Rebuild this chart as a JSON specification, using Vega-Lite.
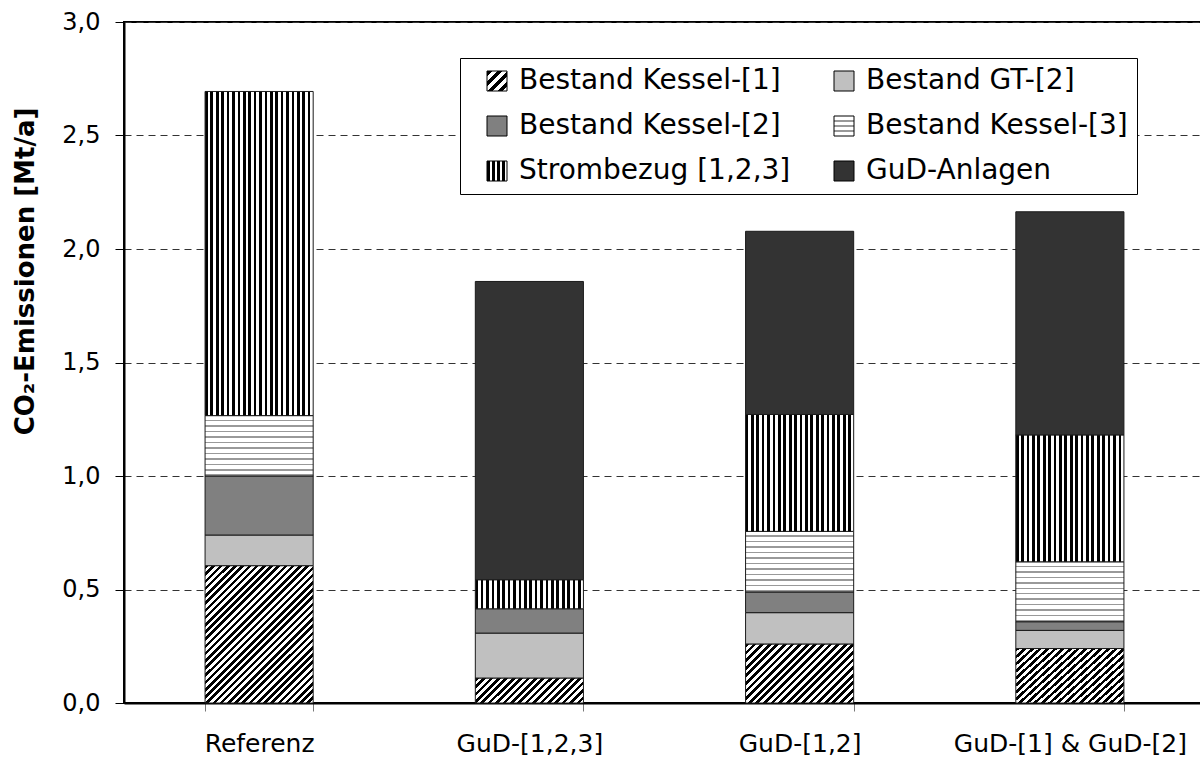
{
  "$schema": "https://vega.github.io/schema/vega-lite/v6.json",
  "width": 1081,
  "height": 681,
  "autosize": {"type": "none"},
  "padding": {"left": 124, "top": 22, "right": 0, "bottom": 55},
  "background": "white",
  "config": {
    "font": "DejaVu Sans",
    "view": {"stroke": "#000", "strokeWidth": 2}
  },
  "data": {
    "values": [
      {"scenario": "Referenz", "series": "Bestand Kessel-[1]", "value": 0.605},
      {"scenario": "Referenz", "series": "Bestand GT-[2]", "value": 0.135},
      {"scenario": "Referenz", "series": "Bestand Kessel-[2]", "value": 0.26},
      {"scenario": "Referenz", "series": "Bestand Kessel-[3]", "value": 0.266},
      {"scenario": "Referenz", "series": "Strombezug [1,2,3]", "value": 1.428},
      {"scenario": "GuD-[1,2,3]", "series": "Bestand Kessel-[1]", "value": 0.11},
      {"scenario": "GuD-[1,2,3]", "series": "Bestand GT-[2]", "value": 0.198},
      {"scenario": "GuD-[1,2,3]", "series": "Bestand Kessel-[2]", "value": 0.107},
      {"scenario": "GuD-[1,2,3]", "series": "Strombezug [1,2,3]", "value": 0.128},
      {"scenario": "GuD-[1,2,3]", "series": "GuD-Anlagen", "value": 1.314},
      {"scenario": "GuD-[1,2]", "series": "Bestand Kessel-[1]", "value": 0.26},
      {"scenario": "GuD-[1,2]", "series": "Bestand GT-[2]", "value": 0.138},
      {"scenario": "GuD-[1,2]", "series": "Bestand Kessel-[2]", "value": 0.091},
      {"scenario": "GuD-[1,2]", "series": "Bestand Kessel-[3]", "value": 0.267},
      {"scenario": "GuD-[1,2]", "series": "Strombezug [1,2,3]", "value": 0.515},
      {"scenario": "GuD-[1,2]", "series": "GuD-Anlagen", "value": 0.807},
      {"scenario": "GuD-[1] & GuD-[2]", "series": "Bestand Kessel-[1]", "value": 0.24},
      {"scenario": "GuD-[1] & GuD-[2]", "series": "Bestand GT-[2]", "value": 0.08},
      {"scenario": "GuD-[1] & GuD-[2]", "series": "Bestand Kessel-[2]", "value": 0.038},
      {"scenario": "GuD-[1] & GuD-[2]", "series": "Bestand Kessel-[3]", "value": 0.264},
      {"scenario": "GuD-[1] & GuD-[2]", "series": "Strombezug [1,2,3]", "value": 0.559},
      {"scenario": "GuD-[1] & GuD-[2]", "series": "GuD-Anlagen", "value": 0.983}
    ]
  },
  "transform": [{"window": [{"op": "row_number", "as": "stackOrder"}]}],
  "mark": {"type": "bar", "stroke": "#1a1a1a", "strokeWidth": 1},
  "encoding": {
    "x": {
      "field": "scenario",
      "type": "nominal",
      "sort": null,
      "scale": {"paddingInner": 0.6, "paddingOuter": 0.3},
      "axis": {
        "title": null,
        "labelAngle": 0,
        "labelFont": "DejaVu Sans",
        "labelFontSize": 25,
        "labelColor": "#000",
        "labelPadding": 20,
        "labelLimit": 0,
        "tickBand": "extent",
        "tickSize": 8,
        "tickColor": "#777",
        "tickWidth": 1,
        "domainColor": "#000",
        "domainWidth": 2,
        "grid": false
      }
    },
    "y": {
      "field": "value",
      "type": "quantitative",
      "stack": "zero",
      "scale": {"domain": [0, 3], "nice": false},
      "axis": {
        "values": [0, 0.5, 1, 1.5, 2, 2.5, 3],
        "labelExpr": "replace(format(datum.value, '.1f'), '.', ',')",
        "labelFont": "DejaVu Sans",
        "labelFontSize": 24,
        "labelColor": "#000",
        "labelPadding": 15,
        "tickSize": 9,
        "tickColor": "#000",
        "tickWidth": 1,
        "domainColor": "#000",
        "domainWidth": 2,
        "grid": true,
        "gridColor": "#333",
        "gridDash": [7, 5],
        "gridWidth": 1,
        "title": "CO₂-Emissionen [Mt/a]",
        "titleFont": "DejaVu Sans",
        "titleFontSize": 26,
        "titleFontWeight": "bold",
        "titleColor": "#000",
        "titleAngle": -90,
        "titleAlign": "center",
        "titleBaseline": "middle",
        "titleX": -99,
        "titleY": 249
      }
    },
    "order": {"field": "stackOrder", "type": "quantitative"},
    "fill": {
      "field": "series",
      "type": "nominal",
      "scale": {
        "domain": ["Bestand Kessel-[1]", "Bestand GT-[2]", "Bestand Kessel-[2]", "Bestand Kessel-[3]", "Strombezug [1,2,3]", "GuD-Anlagen"],
        "range": [
          {"expr": "{gradient:'linear',x1:0,y1:0,x2:1,y2:1,stops:[{offset:0,color:'#000'},{offset:0.125,color:'#000'},{offset:0.125,color:'#fff'},{offset:0.25,color:'#fff'},{offset:0.25,color:'#000'},{offset:0.375,color:'#000'},{offset:0.375,color:'#fff'},{offset:0.5,color:'#fff'},{offset:0.5,color:'#000'},{offset:0.625,color:'#000'},{offset:0.625,color:'#fff'},{offset:0.75,color:'#fff'},{offset:0.75,color:'#000'},{offset:0.875,color:'#000'},{offset:0.875,color:'#fff'},{offset:1,color:'#fff'}]}"},
          "#c0c0c0",
          "#808080",
          {"expr": "{gradient:'linear',x1:0,y1:0,x2:0,y2:1,stops:[{offset:0,color:'#fff'},{offset:0.22,color:'#fff'},{offset:0.22,color:'#999'},{offset:0.3,color:'#999'},{offset:0.3,color:'#fff'},{offset:0.47,color:'#fff'},{offset:0.47,color:'#999'},{offset:0.55,color:'#999'},{offset:0.55,color:'#fff'},{offset:0.72,color:'#fff'},{offset:0.72,color:'#999'},{offset:0.8,color:'#999'},{offset:0.8,color:'#fff'},{offset:1,color:'#fff'}]}"},
          {"expr": "{gradient:'linear',x1:0,y1:0,x2:1,y2:0,stops:[{offset:0,color:'#000'},{offset:0.125,color:'#000'},{offset:0.125,color:'#fff'},{offset:0.25,color:'#fff'},{offset:0.25,color:'#000'},{offset:0.375,color:'#000'},{offset:0.375,color:'#fff'},{offset:0.5,color:'#fff'},{offset:0.5,color:'#000'},{offset:0.625,color:'#000'},{offset:0.625,color:'#fff'},{offset:0.75,color:'#fff'},{offset:0.75,color:'#000'},{offset:0.875,color:'#000'},{offset:0.875,color:'#fff'},{offset:1,color:'#fff'}]}"},
          "#333333"
        ]
      },
      "legend": {
        "title": null,
        "orient": "none",
        "direction": "horizontal",
        "legendX": 336,
        "legendY": 36,
        "columns": 2,
        "gridAlign": "each",
        "symbolType": "square",
        "symbolSize": 400,
        "symbolStrokeColor": "#000",
        "symbolStrokeWidth": 1,
        "symbolOpacity": 1,
        "symbolOffset": 14,
        "labelFont": "DejaVu Sans",
        "labelFontSize": 28,
        "labelColor": "#000",
        "labelOffset": 8,
        "labelLimit": 0,
        "rowPadding": 17,
        "columnPadding": 25,
        "padding": 9,
        "strokeColor": "#000",
        "fillColor": "#fff"
      },
      "condition": [
        {
          "test": "datum.series === 'Bestand Kessel-[1]' && datum.scenario === 'Referenz'",
          "value": {"gradient": "linear", "x1": 0, "y1": 0, "x2": 0.8682, "y2": 1.1037, "stops": [
            {"offset": 0, "color": "#000"}, {"offset": 0.0147, "color": "#000"}, {"offset": 0.0147, "color": "#fff"}, {"offset": 0.0294, "color": "#fff"},
            {"offset": 0.0294, "color": "#000"}, {"offset": 0.0441, "color": "#000"}, {"offset": 0.0441, "color": "#fff"}, {"offset": 0.0588, "color": "#fff"},
            {"offset": 0.0588, "color": "#000"}, {"offset": 0.0735, "color": "#000"}, {"offset": 0.0735, "color": "#fff"}, {"offset": 0.0882, "color": "#fff"},
            {"offset": 0.0882, "color": "#000"}, {"offset": 0.1029, "color": "#000"}, {"offset": 0.1029, "color": "#fff"}, {"offset": 0.1176, "color": "#fff"},
            {"offset": 0.1176, "color": "#000"}, {"offset": 0.1324, "color": "#000"}, {"offset": 0.1324, "color": "#fff"}, {"offset": 0.1471, "color": "#fff"},
            {"offset": 0.1471, "color": "#000"}, {"offset": 0.1618, "color": "#000"}, {"offset": 0.1618, "color": "#fff"}, {"offset": 0.1765, "color": "#fff"},
            {"offset": 0.1765, "color": "#000"}, {"offset": 0.1912, "color": "#000"}, {"offset": 0.1912, "color": "#fff"}, {"offset": 0.2059, "color": "#fff"},
            {"offset": 0.2059, "color": "#000"}, {"offset": 0.2206, "color": "#000"}, {"offset": 0.2206, "color": "#fff"}, {"offset": 0.2353, "color": "#fff"},
            {"offset": 0.2353, "color": "#000"}, {"offset": 0.25, "color": "#000"}, {"offset": 0.25, "color": "#fff"}, {"offset": 0.2647, "color": "#fff"},
            {"offset": 0.2647, "color": "#000"}, {"offset": 0.2794, "color": "#000"}, {"offset": 0.2794, "color": "#fff"}, {"offset": 0.2941, "color": "#fff"},
            {"offset": 0.2941, "color": "#000"}, {"offset": 0.3088, "color": "#000"}, {"offset": 0.3088, "color": "#fff"}, {"offset": 0.3235, "color": "#fff"},
            {"offset": 0.3235, "color": "#000"}, {"offset": 0.3382, "color": "#000"}, {"offset": 0.3382, "color": "#fff"}, {"offset": 0.3529, "color": "#fff"},
            {"offset": 0.3529, "color": "#000"}, {"offset": 0.3676, "color": "#000"}, {"offset": 0.3676, "color": "#fff"}, {"offset": 0.3824, "color": "#fff"},
            {"offset": 0.3824, "color": "#000"}, {"offset": 0.3971, "color": "#000"}, {"offset": 0.3971, "color": "#fff"}, {"offset": 0.4118, "color": "#fff"},
            {"offset": 0.4118, "color": "#000"}, {"offset": 0.4265, "color": "#000"}, {"offset": 0.4265, "color": "#fff"}, {"offset": 0.4412, "color": "#fff"},
            {"offset": 0.4412, "color": "#000"}, {"offset": 0.4559, "color": "#000"}, {"offset": 0.4559, "color": "#fff"}, {"offset": 0.4706, "color": "#fff"},
            {"offset": 0.4706, "color": "#000"}, {"offset": 0.4853, "color": "#000"}, {"offset": 0.4853, "color": "#fff"}, {"offset": 0.5, "color": "#fff"},
            {"offset": 0.5, "color": "#000"}, {"offset": 0.5147, "color": "#000"}, {"offset": 0.5147, "color": "#fff"}, {"offset": 0.5294, "color": "#fff"},
            {"offset": 0.5294, "color": "#000"}, {"offset": 0.5441, "color": "#000"}, {"offset": 0.5441, "color": "#fff"}, {"offset": 0.5588, "color": "#fff"},
            {"offset": 0.5588, "color": "#000"}, {"offset": 0.5735, "color": "#000"}, {"offset": 0.5735, "color": "#fff"}, {"offset": 0.5882, "color": "#fff"},
            {"offset": 0.5882, "color": "#000"}, {"offset": 0.6029, "color": "#000"}, {"offset": 0.6029, "color": "#fff"}, {"offset": 0.6176, "color": "#fff"},
            {"offset": 0.6176, "color": "#000"}, {"offset": 0.6324, "color": "#000"}, {"offset": 0.6324, "color": "#fff"}, {"offset": 0.6471, "color": "#fff"},
            {"offset": 0.6471, "color": "#000"}, {"offset": 0.6618, "color": "#000"}, {"offset": 0.6618, "color": "#fff"}, {"offset": 0.6765, "color": "#fff"},
            {"offset": 0.6765, "color": "#000"}, {"offset": 0.6912, "color": "#000"}, {"offset": 0.6912, "color": "#fff"}, {"offset": 0.7059, "color": "#fff"},
            {"offset": 0.7059, "color": "#000"}, {"offset": 0.7206, "color": "#000"}, {"offset": 0.7206, "color": "#fff"}, {"offset": 0.7353, "color": "#fff"},
            {"offset": 0.7353, "color": "#000"}, {"offset": 0.75, "color": "#000"}, {"offset": 0.75, "color": "#fff"}, {"offset": 0.7647, "color": "#fff"},
            {"offset": 0.7647, "color": "#000"}, {"offset": 0.7794, "color": "#000"}, {"offset": 0.7794, "color": "#fff"}, {"offset": 0.7941, "color": "#fff"},
            {"offset": 0.7941, "color": "#000"}, {"offset": 0.8088, "color": "#000"}, {"offset": 0.8088, "color": "#fff"}, {"offset": 0.8235, "color": "#fff"},
            {"offset": 0.8235, "color": "#000"}, {"offset": 0.8382, "color": "#000"}, {"offset": 0.8382, "color": "#fff"}, {"offset": 0.8529, "color": "#fff"},
            {"offset": 0.8529, "color": "#000"}, {"offset": 0.8676, "color": "#000"}, {"offset": 0.8676, "color": "#fff"}, {"offset": 0.8824, "color": "#fff"},
            {"offset": 0.8824, "color": "#000"}, {"offset": 0.8971, "color": "#000"}, {"offset": 0.8971, "color": "#fff"}, {"offset": 0.9118, "color": "#fff"},
            {"offset": 0.9118, "color": "#000"}, {"offset": 0.9265, "color": "#000"}, {"offset": 0.9265, "color": "#fff"}, {"offset": 0.9412, "color": "#fff"},
            {"offset": 0.9412, "color": "#000"}, {"offset": 0.9559, "color": "#000"}, {"offset": 0.9559, "color": "#fff"}, {"offset": 0.9706, "color": "#fff"},
            {"offset": 0.9706, "color": "#000"}, {"offset": 0.9853, "color": "#000"}, {"offset": 0.9853, "color": "#fff"}, {"offset": 1, "color": "#fff"}
          ]}
        },
        {
          "test": "datum.series === 'Bestand Kessel-[1]' && datum.scenario === 'GuD-[1,2,3]'",
          "value": {"gradient": "linear", "x1": 0, "y1": 0, "x2": 1.1689, "y2": 0.2706, "stops": [
            {"offset": 0, "color": "#000"}, {"offset": 0.0278, "color": "#000"}, {"offset": 0.0278, "color": "#fff"}, {"offset": 0.0556, "color": "#fff"},
            {"offset": 0.0556, "color": "#000"}, {"offset": 0.0833, "color": "#000"}, {"offset": 0.0833, "color": "#fff"}, {"offset": 0.1111, "color": "#fff"},
            {"offset": 0.1111, "color": "#000"}, {"offset": 0.1389, "color": "#000"}, {"offset": 0.1389, "color": "#fff"}, {"offset": 0.1667, "color": "#fff"},
            {"offset": 0.1667, "color": "#000"}, {"offset": 0.1944, "color": "#000"}, {"offset": 0.1944, "color": "#fff"}, {"offset": 0.2222, "color": "#fff"},
            {"offset": 0.2222, "color": "#000"}, {"offset": 0.25, "color": "#000"}, {"offset": 0.25, "color": "#fff"}, {"offset": 0.2778, "color": "#fff"},
            {"offset": 0.2778, "color": "#000"}, {"offset": 0.3056, "color": "#000"}, {"offset": 0.3056, "color": "#fff"}, {"offset": 0.3333, "color": "#fff"},
            {"offset": 0.3333, "color": "#000"}, {"offset": 0.3611, "color": "#000"}, {"offset": 0.3611, "color": "#fff"}, {"offset": 0.3889, "color": "#fff"},
            {"offset": 0.3889, "color": "#000"}, {"offset": 0.4167, "color": "#000"}, {"offset": 0.4167, "color": "#fff"}, {"offset": 0.4444, "color": "#fff"},
            {"offset": 0.4444, "color": "#000"}, {"offset": 0.4722, "color": "#000"}, {"offset": 0.4722, "color": "#fff"}, {"offset": 0.5, "color": "#fff"},
            {"offset": 0.5, "color": "#000"}, {"offset": 0.5278, "color": "#000"}, {"offset": 0.5278, "color": "#fff"}, {"offset": 0.5556, "color": "#fff"},
            {"offset": 0.5556, "color": "#000"}, {"offset": 0.5833, "color": "#000"}, {"offset": 0.5833, "color": "#fff"}, {"offset": 0.6111, "color": "#fff"},
            {"offset": 0.6111, "color": "#000"}, {"offset": 0.6389, "color": "#000"}, {"offset": 0.6389, "color": "#fff"}, {"offset": 0.6667, "color": "#fff"},
            {"offset": 0.6667, "color": "#000"}, {"offset": 0.6944, "color": "#000"}, {"offset": 0.6944, "color": "#fff"}, {"offset": 0.7222, "color": "#fff"},
            {"offset": 0.7222, "color": "#000"}, {"offset": 0.75, "color": "#000"}, {"offset": 0.75, "color": "#fff"}, {"offset": 0.7778, "color": "#fff"},
            {"offset": 0.7778, "color": "#000"}, {"offset": 0.8056, "color": "#000"}, {"offset": 0.8056, "color": "#fff"}, {"offset": 0.8333, "color": "#fff"},
            {"offset": 0.8333, "color": "#000"}, {"offset": 0.8611, "color": "#000"}, {"offset": 0.8611, "color": "#fff"}, {"offset": 0.8889, "color": "#fff"},
            {"offset": 0.8889, "color": "#000"}, {"offset": 0.9167, "color": "#000"}, {"offset": 0.9167, "color": "#fff"}, {"offset": 0.9444, "color": "#fff"},
            {"offset": 0.9444, "color": "#000"}, {"offset": 0.9722, "color": "#000"}, {"offset": 0.9722, "color": "#fff"}, {"offset": 1, "color": "#fff"}
          ]}
        },
        {
          "test": "datum.series === 'Bestand Kessel-[1]'",
          "value": {"gradient": "linear", "x1": 0, "y1": 0, "x2": 1.1909, "y2": 0.6506, "stops": [
            {"offset": 0, "color": "#000"}, {"offset": 0.0227, "color": "#000"}, {"offset": 0.0227, "color": "#fff"}, {"offset": 0.0455, "color": "#fff"},
            {"offset": 0.0455, "color": "#000"}, {"offset": 0.0682, "color": "#000"}, {"offset": 0.0682, "color": "#fff"}, {"offset": 0.0909, "color": "#fff"},
            {"offset": 0.0909, "color": "#000"}, {"offset": 0.1136, "color": "#000"}, {"offset": 0.1136, "color": "#fff"}, {"offset": 0.1364, "color": "#fff"},
            {"offset": 0.1364, "color": "#000"}, {"offset": 0.1591, "color": "#000"}, {"offset": 0.1591, "color": "#fff"}, {"offset": 0.1818, "color": "#fff"},
            {"offset": 0.1818, "color": "#000"}, {"offset": 0.2045, "color": "#000"}, {"offset": 0.2045, "color": "#fff"}, {"offset": 0.2273, "color": "#fff"},
            {"offset": 0.2273, "color": "#000"}, {"offset": 0.25, "color": "#000"}, {"offset": 0.25, "color": "#fff"}, {"offset": 0.2727, "color": "#fff"},
            {"offset": 0.2727, "color": "#000"}, {"offset": 0.2955, "color": "#000"}, {"offset": 0.2955, "color": "#fff"}, {"offset": 0.3182, "color": "#fff"},
            {"offset": 0.3182, "color": "#000"}, {"offset": 0.3409, "color": "#000"}, {"offset": 0.3409, "color": "#fff"}, {"offset": 0.3636, "color": "#fff"},
            {"offset": 0.3636, "color": "#000"}, {"offset": 0.3864, "color": "#000"}, {"offset": 0.3864, "color": "#fff"}, {"offset": 0.4091, "color": "#fff"},
            {"offset": 0.4091, "color": "#000"}, {"offset": 0.4318, "color": "#000"}, {"offset": 0.4318, "color": "#fff"}, {"offset": 0.4545, "color": "#fff"},
            {"offset": 0.4545, "color": "#000"}, {"offset": 0.4773, "color": "#000"}, {"offset": 0.4773, "color": "#fff"}, {"offset": 0.5, "color": "#fff"},
            {"offset": 0.5, "color": "#000"}, {"offset": 0.5227, "color": "#000"}, {"offset": 0.5227, "color": "#fff"}, {"offset": 0.5455, "color": "#fff"},
            {"offset": 0.5455, "color": "#000"}, {"offset": 0.5682, "color": "#000"}, {"offset": 0.5682, "color": "#fff"}, {"offset": 0.5909, "color": "#fff"},
            {"offset": 0.5909, "color": "#000"}, {"offset": 0.6136, "color": "#000"}, {"offset": 0.6136, "color": "#fff"}, {"offset": 0.6364, "color": "#fff"},
            {"offset": 0.6364, "color": "#000"}, {"offset": 0.6591, "color": "#000"}, {"offset": 0.6591, "color": "#fff"}, {"offset": 0.6818, "color": "#fff"},
            {"offset": 0.6818, "color": "#000"}, {"offset": 0.7045, "color": "#000"}, {"offset": 0.7045, "color": "#fff"}, {"offset": 0.7273, "color": "#fff"},
            {"offset": 0.7273, "color": "#000"}, {"offset": 0.75, "color": "#000"}, {"offset": 0.75, "color": "#fff"}, {"offset": 0.7727, "color": "#fff"},
            {"offset": 0.7727, "color": "#000"}, {"offset": 0.7955, "color": "#000"}, {"offset": 0.7955, "color": "#fff"}, {"offset": 0.8182, "color": "#fff"},
            {"offset": 0.8182, "color": "#000"}, {"offset": 0.8409, "color": "#000"}, {"offset": 0.8409, "color": "#fff"}, {"offset": 0.8636, "color": "#fff"},
            {"offset": 0.8636, "color": "#000"}, {"offset": 0.8864, "color": "#000"}, {"offset": 0.8864, "color": "#fff"}, {"offset": 0.9091, "color": "#fff"},
            {"offset": 0.9091, "color": "#000"}, {"offset": 0.9318, "color": "#000"}, {"offset": 0.9318, "color": "#fff"}, {"offset": 0.9545, "color": "#fff"},
            {"offset": 0.9545, "color": "#000"}, {"offset": 0.9773, "color": "#000"}, {"offset": 0.9773, "color": "#fff"}, {"offset": 1, "color": "#fff"}
          ]}
        },
        {
          "test": "datum.series === 'Bestand Kessel-[3]'",
          "value": {"gradient": "linear", "x1": 0, "y1": 0, "x2": 0, "y2": 1, "stops": [
            {"offset": 0, "color": "#fff"}, {"offset": 0.0659, "color": "#fff"}, {"offset": 0.0659, "color": "#999"}, {"offset": 0.0909, "color": "#999"},
            {"offset": 0.0909, "color": "#fff"}, {"offset": 0.1568, "color": "#fff"}, {"offset": 0.1568, "color": "#999"}, {"offset": 0.1818, "color": "#999"},
            {"offset": 0.1818, "color": "#fff"}, {"offset": 0.2477, "color": "#fff"}, {"offset": 0.2477, "color": "#999"}, {"offset": 0.2727, "color": "#999"},
            {"offset": 0.2727, "color": "#fff"}, {"offset": 0.3386, "color": "#fff"}, {"offset": 0.3386, "color": "#999"}, {"offset": 0.3636, "color": "#999"},
            {"offset": 0.3636, "color": "#fff"}, {"offset": 0.4295, "color": "#fff"}, {"offset": 0.4295, "color": "#999"}, {"offset": 0.4545, "color": "#999"},
            {"offset": 0.4545, "color": "#fff"}, {"offset": 0.5205, "color": "#fff"}, {"offset": 0.5205, "color": "#999"}, {"offset": 0.5455, "color": "#999"},
            {"offset": 0.5455, "color": "#fff"}, {"offset": 0.6114, "color": "#fff"}, {"offset": 0.6114, "color": "#999"}, {"offset": 0.6364, "color": "#999"},
            {"offset": 0.6364, "color": "#fff"}, {"offset": 0.7023, "color": "#fff"}, {"offset": 0.7023, "color": "#999"}, {"offset": 0.7273, "color": "#999"},
            {"offset": 0.7273, "color": "#fff"}, {"offset": 0.7932, "color": "#fff"}, {"offset": 0.7932, "color": "#999"}, {"offset": 0.8182, "color": "#999"},
            {"offset": 0.8182, "color": "#fff"}, {"offset": 0.8841, "color": "#fff"}, {"offset": 0.8841, "color": "#999"}, {"offset": 0.9091, "color": "#999"},
            {"offset": 0.9091, "color": "#fff"}, {"offset": 0.975, "color": "#fff"}, {"offset": 0.975, "color": "#999"}, {"offset": 1, "color": "#999"}
          ]}
        },
        {
          "test": "datum.series === 'Strombezug [1,2,3]'",
          "value": {"gradient": "linear", "x1": 0, "y1": 0, "x2": 1, "y2": 0, "stops": [
            {"offset": 0, "color": "#000"}, {"offset": 0.025, "color": "#000"}, {"offset": 0.025, "color": "#fff"}, {"offset": 0.05, "color": "#fff"},
            {"offset": 0.05, "color": "#000"}, {"offset": 0.075, "color": "#000"}, {"offset": 0.075, "color": "#fff"}, {"offset": 0.1, "color": "#fff"},
            {"offset": 0.1, "color": "#000"}, {"offset": 0.125, "color": "#000"}, {"offset": 0.125, "color": "#fff"}, {"offset": 0.15, "color": "#fff"},
            {"offset": 0.15, "color": "#000"}, {"offset": 0.175, "color": "#000"}, {"offset": 0.175, "color": "#fff"}, {"offset": 0.2, "color": "#fff"},
            {"offset": 0.2, "color": "#000"}, {"offset": 0.225, "color": "#000"}, {"offset": 0.225, "color": "#fff"}, {"offset": 0.25, "color": "#fff"},
            {"offset": 0.25, "color": "#000"}, {"offset": 0.275, "color": "#000"}, {"offset": 0.275, "color": "#fff"}, {"offset": 0.3, "color": "#fff"},
            {"offset": 0.3, "color": "#000"}, {"offset": 0.325, "color": "#000"}, {"offset": 0.325, "color": "#fff"}, {"offset": 0.35, "color": "#fff"},
            {"offset": 0.35, "color": "#000"}, {"offset": 0.375, "color": "#000"}, {"offset": 0.375, "color": "#fff"}, {"offset": 0.4, "color": "#fff"},
            {"offset": 0.4, "color": "#000"}, {"offset": 0.425, "color": "#000"}, {"offset": 0.425, "color": "#fff"}, {"offset": 0.45, "color": "#fff"},
            {"offset": 0.45, "color": "#000"}, {"offset": 0.475, "color": "#000"}, {"offset": 0.475, "color": "#fff"}, {"offset": 0.5, "color": "#fff"},
            {"offset": 0.5, "color": "#000"}, {"offset": 0.525, "color": "#000"}, {"offset": 0.525, "color": "#fff"}, {"offset": 0.55, "color": "#fff"},
            {"offset": 0.55, "color": "#000"}, {"offset": 0.575, "color": "#000"}, {"offset": 0.575, "color": "#fff"}, {"offset": 0.6, "color": "#fff"},
            {"offset": 0.6, "color": "#000"}, {"offset": 0.625, "color": "#000"}, {"offset": 0.625, "color": "#fff"}, {"offset": 0.65, "color": "#fff"},
            {"offset": 0.65, "color": "#000"}, {"offset": 0.675, "color": "#000"}, {"offset": 0.675, "color": "#fff"}, {"offset": 0.7, "color": "#fff"},
            {"offset": 0.7, "color": "#000"}, {"offset": 0.725, "color": "#000"}, {"offset": 0.725, "color": "#fff"}, {"offset": 0.75, "color": "#fff"},
            {"offset": 0.75, "color": "#000"}, {"offset": 0.775, "color": "#000"}, {"offset": 0.775, "color": "#fff"}, {"offset": 0.8, "color": "#fff"},
            {"offset": 0.8, "color": "#000"}, {"offset": 0.825, "color": "#000"}, {"offset": 0.825, "color": "#fff"}, {"offset": 0.85, "color": "#fff"},
            {"offset": 0.85, "color": "#000"}, {"offset": 0.875, "color": "#000"}, {"offset": 0.875, "color": "#fff"}, {"offset": 0.9, "color": "#fff"},
            {"offset": 0.9, "color": "#000"}, {"offset": 0.925, "color": "#000"}, {"offset": 0.925, "color": "#fff"}, {"offset": 0.95, "color": "#fff"},
            {"offset": 0.95, "color": "#000"}, {"offset": 0.975, "color": "#000"}, {"offset": 0.975, "color": "#fff"}, {"offset": 1, "color": "#fff"}
          ]}
        }
      ]
    }
  }
}
